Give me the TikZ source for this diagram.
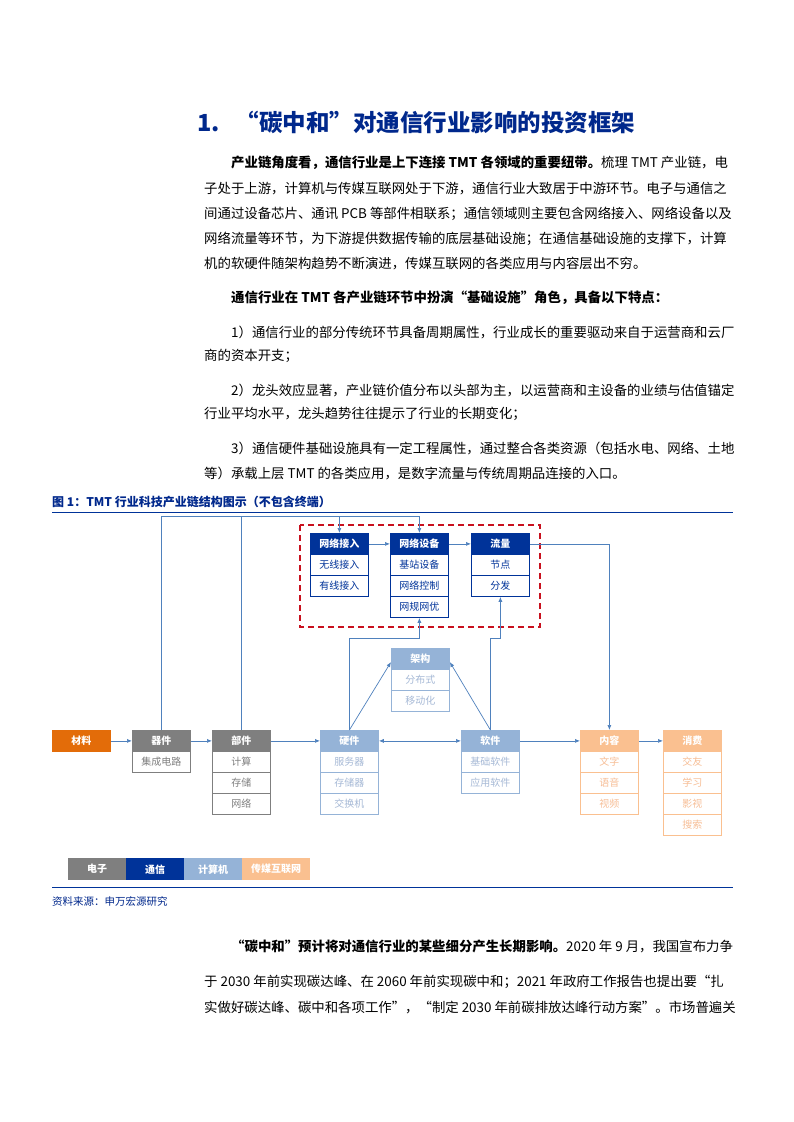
\documentclass[tikz,border=0pt]{standalone}
\usepackage{fontspec}
\setmainfont{Noto Sans CJK SC}
\usetikzlibrary{arrows.meta,calc}
\definecolor{cdark}{RGB}{0,51,153}
\definecolor{cgray}{RGB}{127,127,127}
\definecolor{clb}{RGB}{149,179,215}
\definecolor{clbt}{RGB}{166,185,214}
\definecolor{corg}{RGB}{227,108,9}
\definecolor{cpch}{RGB}{250,192,144}
\definecolor{cpcht}{RGB}{247,190,150}
\definecolor{carr}{RGB}{79,129,189}
\definecolor{cred}{RGB}{200,16,30}
\definecolor{ctitle}{RGB}{0,40,140}
\tikzset{
 hdr/.style={minimum width=58pt,minimum height=21pt,inner sep=0pt,font=\fontsize{10}{10}\selectfont\bfseries,text=white,line width=0.8pt},
 rowb/.style={minimum width=58pt,minimum height=21pt,inner sep=0pt,font=\fontsize{10}{10}\selectfont,fill=white,line width=0.8pt},
 conn/.style={draw=carr,line width=0.7pt},
 arr/.style={conn,-{Latex[length=5pt,width=4pt]}},
 darr/.style={conn,{Latex[length=5pt,width=4pt]}-{Latex[length=5pt,width=4pt]}},
 body/.style={anchor=west,inner sep=0pt,font=\fontsize{13.4}{13.4}\selectfont},
 leg/.style={minimum width=58pt,minimum height=22pt,inner sep=0pt,font=\fontsize{10}{10}\selectfont\bfseries,text=white}
}
\newcommand\chbox[7]{%
 \node[hdr,fill=#4,draw=#4,anchor=north west] (#1) at (#2,#3) {#6};
 \foreach \t [count=\i] in {#7} {\node[rowb,draw=#4,text=#5,anchor=north west] (#1-\i) at (#2,#3+21*\i) {\t};}
}
\begin{document}
\begin{tikzpicture}[x=1pt,y=-1pt]
\useasboundingbox[fill=white] (0,0) rectangle (793,1122);
% title
\node[anchor=west,inner sep=0pt,text=ctitle,font=\fontsize{23.5}{23.5}\selectfont\bfseries] (title) at (197,122) {1.\hspace{16pt}“碳中和”对通信行业影响的投资框架};
% body
\node[body] (p1) at (231,163) {\textbf{产业链角度看，通信行业是上下连接 TMT 各领域的重要纽带。}梳理 TMT 产业链，电};
\node[body] (p2) at (204,189) {子处于上游，计算机与传媒互联网处于下游，通信行业大致居于中游环节。电子与通信之};
\node[body] (p3) at (204,214) {间通过设备芯片、通讯 PCB 等部件相联系；通信领域则主要包含网络接入、网络设备以及};
\node[body] (p4) at (204,239) {网络流量等环节，为下游提供数据传输的底层基础设施；在通信基础设施的支撑下，计算};
\node[body] (p5) at (204,264) {机的软硬件随架构趋势不断演进，传媒互联网的各类应用与内容层出不穷。};
\node[body] (p6) at (231,298) {\textbf{通信行业在 TMT 各产业链环节中扮演“基础设施”角色，具备以下特点：}};
\node[body] (p7) at (231,332) {1）通信行业的部分传统环节具备周期属性，行业成长的重要驱动来自于运营商和云厂};
\node[body] (p8) at (204,356) {商的资本开支；};
\node[body] (p9) at (231,390) {2）龙头效应显著，产业链价值分布以头部为主，以运营商和主设备的业绩与估值锚定};
\node[body] (p10) at (204,414) {行业平均水平，龙头趋势往往提示了行业的长期变化；};
\node[body] (p11) at (231,448) {3）通信硬件基础设施具有一定工程属性，通过整合各类资源（包括水电、网络、土地};
\node[body] (p12) at (204,473) {等）承载上层 TMT 的各类应用，是数字流量与传统周期品连接的入口。};
% figure title
\node[anchor=west,inner sep=0pt,text=ctitle,font=\fontsize{12}{12}\selectfont\bfseries] (ftitle) at (52,502) {图 1：TMT 行业科技产业链结构图示（不包含终端）};
\draw[cdark,line width=1pt] (52,512) -- (733,512);
\draw[cdark,line width=1pt] (52,887) -- (733,887);
\node[anchor=west,inner sep=0pt,text=ctitle,font=\fontsize{10.5}{10.5}\selectfont] (src) at (52,901) {资料来源：申万宏源研究};
% red dashed frame
\draw[cred,line width=1.5pt,dash pattern=on 6pt off 4pt] (300,525) rectangle (540,627);
% boxes
\node[hdr,fill=corg,draw=corg,anchor=north west] (cl) at (52,730) {材料};
\chbox{qj}{132}{730}{cgray}{cgray}{器件}{集成电路}
\chbox{bj}{212}{730}{cgray}{cgray}{部件}{计算,存储,网络}
\chbox{yj}{320}{730}{clb}{clbt}{硬件}{服务器,存储器,交换机}
\chbox{jg}{391}{648}{clb}{clbt}{架构}{分布式,移动化}
\chbox{rj}{461}{730}{clb}{clbt}{软件}{基础软件,应用软件}
\chbox{nr}{580}{730}{cpch}{cpcht}{内容}{文字,语音,视频}
\chbox{xf}{663}{730}{cpch}{cpcht}{消费}{交友,学习,影视,搜索}
\chbox{wljr}{310}{533}{cdark}{cdark}{网络接入}{无线接入,有线接入}
\chbox{wlsb}{390}{533}{cdark}{cdark}{网络设备}{基站设备,网络控制,网规网优}
\chbox{ll}{471}{533}{cdark}{cdark}{流量}{节点,分发}
% connectors
\coordinate (topl) at (0,516);
\coordinate (hwl) at (0,638);
\draw[arr] (cl.east) -- (qj.west);
\draw[arr] (qj.east) -- (bj.west);
\draw[arr] (bj.east) -- (yj.west);
\draw[darr] (yj.east) -- (rj.west);
\draw[arr] (rj.east) -- (nr.west);
\draw[arr] (nr.east) -- (xf.west);
\draw[arr] (qj.north) |- (wlsb.north |- topl) -- (wlsb.north);
\draw[conn] (bj.north) -- (bj.north |- topl);
\draw[arr] (wljr.north |- topl) -- (wljr.north);
\draw[arr] (wljr.east) -- (wlsb.west);
\draw[arr] (wlsb.east) -- (ll.west);
\draw[arr] (ll.east) -| (nr.north);
\draw[arr] (yj.north) |- (wlsb-3.south |- hwl) -- (wlsb-3.south);
\draw[arr] (yj.north) -- (jg.south west |- 0,662);
\draw[arr] (rj.north) -- (jg.south east |- 0,662);
\draw[arr] (rj.north) |- (ll-2.south |- hwl) -- (ll-2.south);
% legend
\node[leg,fill=cgray,anchor=north west] (l1) at (68,858) {电子};
\node[leg,fill=cdark,anchor=north west] (l2) at (126,858) {通信};
\node[leg,fill=clb,anchor=north west] (l3) at (184,858) {计算机};
\node[leg,fill=cpch,anchor=north west,minimum width=68pt] (l4) at (242,858) {传媒互联网};
% closing text
\node[body] (q1) at (231,946) {\textbf{“碳中和”预计将对通信行业的某些细分产生长期影响。}2020 年 9 月，我国宣布力争};
\node[body] (q2) at (204,982) {于 2030 年前实现碳达峰、在 2060 年前实现碳中和；2021 年政府工作报告也提出要“扎};
\node[body] (q3) at (204,1008) {实做好碳达峰、碳中和各项工作”，“制定 2030 年前碳排放达峰行动方案”。市场普遍关};
\end{tikzpicture}
\end{document}
